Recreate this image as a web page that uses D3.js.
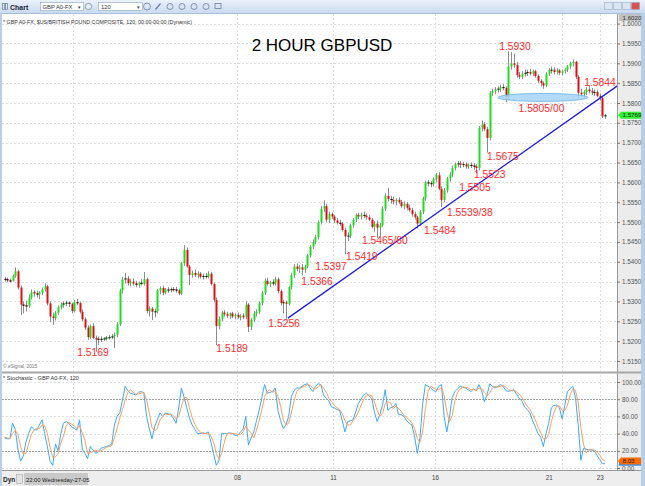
<!DOCTYPE html>
<html><head><meta charset="utf-8">
<script src="https://cdn.jsdelivr.net/npm/d3@7"></script>
<style>body{margin:0;background:#fff}svg{display:block;font-family:'Liberation Sans',Arial,sans-serif}</style>
</head><body><svg id="c" width="645" height="486"></svg>
<script>
// ---------- DATA (2-hour GBP/USD bars) ----------
const open=[1.5357,1.5356,1.5353,1.5352,1.5364,1.5376,1.5335,1.5292,1.5290,1.5288,
1.5310,1.5324,1.5320,1.5318,1.5322,1.5330,1.5338,1.5295,1.5262,1.5258,
1.5272,1.5285,1.5292,1.5295,1.5297,1.5294,1.5276,1.5298,1.5296,1.5274,
1.5255,1.5234,1.5210,1.5238,1.5208,1.5204,1.5206,1.5205,1.5207,1.5209,
1.5210,1.5212,1.5216,1.5242,1.5328,1.5355,1.5358,1.5346,1.5350,1.5345,
1.5342,1.5347,1.5344,1.5356,1.5276,1.5282,1.5274,1.5275,1.5328,1.5334,
1.5322,1.5330,1.5329,1.5331,1.5330,1.5328,1.5320,1.5396,1.5430,1.5388,
1.5367,1.5372,1.5366,1.5370,1.5362,1.5364,1.5362,1.5370,1.5344,1.5304,
1.5238,1.5256,1.5272,1.5268,1.5264,1.5270,1.5262,1.5266,1.5260,1.5264,
1.5260,1.5292,1.5236,1.5254,1.5270,1.5274,1.5296,1.5322,1.5352,1.5344,
1.5348,1.5345,1.5356,1.5326,1.5296,1.5298,1.5294,1.5336,1.5366,1.5388,
1.5382,1.5386,1.5380,1.5388,1.5416,1.5438,1.5450,1.5462,1.5500,1.5534,
1.5540,1.5506,1.5520,1.5514,1.5504,1.5498,1.5496,1.5480,1.5464,1.5466,
1.5492,1.5506,1.5518,1.5514,1.5518,1.5516,1.5512,1.5506,1.5488,1.5496,
1.5486,1.5492,1.5534,1.5566,1.5558,1.5556,1.5552,1.5556,1.5550,1.5540,
1.5546,1.5536,1.5530,1.5520,1.5512,1.5496,1.5526,1.5560,1.5600,1.5598,
1.5596,1.5608,1.5618,1.5584,1.5556,1.5580,1.5610,1.5620,1.5636,1.5646,
1.5648,1.5644,1.5646,1.5640,1.5644,1.5642,1.5640,1.5636,1.5738,1.5746,
1.5734,1.5712,1.5826,1.5830,1.5834,1.5836,1.5840,1.5838,1.5815,1.5892,
1.5900,1.5896,1.5870,1.5866,1.5874,1.5876,1.5878,1.5874,1.5880,1.5868,
1.5856,1.5850,1.5844,1.5874,1.5882,1.5884,1.5878,1.5882,1.5876,1.5880,
1.5884,1.5892,1.5900,1.5904,1.5866,1.5826,1.5822,1.5828,1.5834,1.5830,
1.5826,1.5828,1.5818,1.5812,1.5766];
const high=[1.5362,1.5360,1.5358,1.5368,1.5386,1.5380,1.5340,1.5300,1.5302,1.5318,
1.5330,1.5328,1.5327,1.5326,1.5335,1.5346,1.5342,1.5300,1.5272,1.5276,
1.5290,1.5298,1.5300,1.5302,1.5300,1.5297,1.5304,1.5306,1.5300,1.5280,
1.5260,1.5240,1.5242,1.5245,1.5214,1.5212,1.5212,1.5210,1.5213,1.5215,
1.5218,1.5222,1.5248,1.5332,1.5362,1.5372,1.5364,1.5356,1.5358,1.5352,
1.5350,1.5356,1.5374,1.5360,1.5288,1.5286,1.5282,1.5332,1.5338,1.5340,
1.5334,1.5336,1.5335,1.5336,1.5337,1.5332,1.5400,1.5442,1.5436,1.5392,
1.5378,1.5380,1.5376,1.5374,1.5370,1.5372,1.5376,1.5374,1.5348,1.5310,
1.5262,1.5276,1.5278,1.5274,1.5272,1.5274,1.5270,1.5272,1.5268,1.5270,
1.5300,1.5296,1.5258,1.5276,1.5280,1.5300,1.5326,1.5358,1.5360,1.5352,
1.5356,1.5362,1.5360,1.5330,1.5304,1.5302,1.5340,1.5372,1.5394,1.5396,
1.5392,1.5394,1.5392,1.5420,1.5442,1.5456,1.5468,1.5504,1.5540,1.5555,
1.5546,1.5526,1.5524,1.5518,1.5510,1.5506,1.5500,1.5486,1.5474,1.5496,
1.5510,1.5522,1.5524,1.5524,1.5526,1.5522,1.5518,1.5510,1.5502,1.5504,
1.5498,1.5540,1.5572,1.5586,1.5566,1.5564,1.5560,1.5562,1.5556,1.5552,
1.5550,1.5544,1.5536,1.5526,1.5516,1.5530,1.5564,1.5604,1.5606,1.5604,
1.5612,1.5624,1.5626,1.5590,1.5586,1.5614,1.5626,1.5642,1.5650,1.5654,
1.5654,1.5652,1.5650,1.5648,1.5650,1.5648,1.5646,1.5742,1.5756,1.5752,
1.5740,1.5830,1.5836,1.5840,1.5842,1.5846,1.5848,1.5842,1.5930,1.5928,
1.5924,1.5904,1.5878,1.5880,1.5884,1.5884,1.5886,1.5884,1.5884,1.5872,
1.5860,1.5854,1.5878,1.5888,1.5892,1.5890,1.5888,1.5886,1.5884,1.5888,
1.5896,1.5904,1.5910,1.5906,1.5870,1.5836,1.5832,1.5840,1.5844,1.5838,
1.5834,1.5832,1.5824,1.5816,1.5772];
const low=[1.5350,1.5349,1.5348,1.5350,1.5360,1.5330,1.5266,1.5270,1.5275,1.5284,
1.5305,1.5312,1.5310,1.5306,1.5316,1.5325,1.5290,1.5248,1.5241,1.5252,
1.5266,1.5280,1.5284,1.5288,1.5286,1.5270,1.5272,1.5290,1.5270,1.5250,
1.5228,1.5203,1.5205,1.5205,1.5173,1.5190,1.5198,1.5200,1.5202,1.5204,
1.5205,1.5183,1.5210,1.5238,1.5320,1.5345,1.5340,1.5338,1.5340,1.5336,
1.5335,1.5340,1.5340,1.5270,1.5262,1.5253,1.5260,1.5270,1.5318,1.5316,
1.5318,1.5322,1.5323,1.5325,1.5322,1.5316,1.5316,1.5390,1.5385,1.5341,
1.5360,1.5362,1.5358,1.5358,1.5355,1.5358,1.5358,1.5340,1.5298,1.5190,
1.5230,1.5250,1.5262,1.5258,1.5256,1.5258,1.5255,1.5256,1.5252,1.5255,
1.5255,1.5223,1.5228,1.5248,1.5262,1.5268,1.5290,1.5316,1.5340,1.5336,
1.5340,1.5340,1.5320,1.5290,1.5270,1.5256,1.5290,1.5330,1.5360,1.5376,
1.5372,1.5366,1.5372,1.5384,1.5410,1.5432,1.5444,1.5456,1.5494,1.5526,
1.5500,1.5498,1.5508,1.5498,1.5494,1.5490,1.5476,1.5419,1.5452,1.5460,
1.5486,1.5500,1.5508,1.5506,1.5510,1.5506,1.5502,1.5484,1.5476,1.5460,
1.5465,1.5488,1.5528,1.5552,1.5546,1.5544,1.5542,1.5546,1.5536,1.5532,
1.5530,1.5526,1.5514,1.5506,1.5484,1.5490,1.5520,1.5554,1.5590,1.5588,
1.5590,1.5600,1.5580,1.5538,1.5550,1.5574,1.5602,1.5614,1.5630,1.5638,
1.5636,1.5638,1.5634,1.5634,1.5636,1.5632,1.5623,1.5630,1.5728,1.5730,
1.5675,1.5706,1.5818,1.5822,1.5826,1.5828,1.5832,1.5802,1.5810,1.5884,
1.5888,1.5864,1.5860,1.5860,1.5866,1.5868,1.5870,1.5868,1.5864,1.5850,
1.5842,1.5836,1.5840,1.5868,1.5874,1.5872,1.5872,1.5870,1.5870,1.5874,
1.5878,1.5886,1.5892,1.5860,1.5812,1.5816,1.5814,1.5820,1.5824,1.5820,
1.5818,1.5814,1.5806,1.5762,1.5760];
const close=[1.5356,1.5353,1.5352,1.5364,1.5376,1.5335,1.5292,1.5290,1.5288,1.5310,
1.5324,1.5320,1.5318,1.5322,1.5330,1.5338,1.5295,1.5262,1.5258,1.5272,
1.5285,1.5292,1.5295,1.5297,1.5294,1.5276,1.5298,1.5296,1.5274,1.5255,
1.5234,1.5210,1.5238,1.5208,1.5204,1.5206,1.5205,1.5207,1.5209,1.5210,
1.5212,1.5216,1.5242,1.5328,1.5355,1.5358,1.5346,1.5350,1.5345,1.5342,
1.5347,1.5344,1.5356,1.5276,1.5282,1.5274,1.5275,1.5328,1.5334,1.5322,
1.5330,1.5329,1.5331,1.5330,1.5328,1.5320,1.5396,1.5430,1.5388,1.5367,
1.5372,1.5366,1.5370,1.5362,1.5364,1.5362,1.5370,1.5344,1.5304,1.5238,
1.5256,1.5272,1.5268,1.5264,1.5270,1.5262,1.5266,1.5260,1.5264,1.5260,
1.5292,1.5236,1.5254,1.5270,1.5274,1.5296,1.5322,1.5352,1.5344,1.5348,
1.5345,1.5356,1.5326,1.5296,1.5298,1.5294,1.5336,1.5366,1.5388,1.5382,
1.5386,1.5380,1.5388,1.5416,1.5438,1.5450,1.5462,1.5500,1.5534,1.5540,
1.5506,1.5520,1.5514,1.5504,1.5498,1.5496,1.5480,1.5464,1.5466,1.5492,
1.5506,1.5518,1.5514,1.5518,1.5516,1.5512,1.5506,1.5488,1.5496,1.5486,
1.5492,1.5534,1.5566,1.5558,1.5556,1.5552,1.5556,1.5550,1.5540,1.5546,
1.5536,1.5530,1.5520,1.5512,1.5496,1.5526,1.5560,1.5600,1.5598,1.5596,
1.5608,1.5618,1.5584,1.5556,1.5580,1.5610,1.5620,1.5636,1.5646,1.5648,
1.5644,1.5646,1.5640,1.5644,1.5642,1.5640,1.5636,1.5738,1.5746,1.5734,
1.5712,1.5826,1.5830,1.5834,1.5836,1.5840,1.5838,1.5815,1.5892,1.5900,
1.5896,1.5870,1.5866,1.5874,1.5876,1.5878,1.5874,1.5880,1.5868,1.5856,
1.5850,1.5844,1.5874,1.5882,1.5884,1.5878,1.5882,1.5876,1.5880,1.5884,
1.5892,1.5900,1.5904,1.5866,1.5826,1.5822,1.5828,1.5834,1.5830,1.5826,
1.5828,1.5818,1.5812,1.5766,1.5769];
// Stochastic %K (blue) and %D (orange)
const stochK=[35,34,34,52,45,22,8,14,30,40,48,45,44,50,56,40,25,8,3,28,
20,40,52,54,52,48,46,44,56,22,17,11,25,21,17,19,23,24,25,26,
28,50,60,64,79,95,90,87,86,85,88,89,87,60,46,34,48,56,64,60,
64,63,62,58,52,70,93,82,70,58,50,45,40,40,41,40,42,30,17,3,
9,40,40,40,41,40,38,38,42,45,60,27,35,42,55,67,82,97,87,88,
89,93,67,55,46,50,60,83,90,93,93,95,97,98,93,89,95,98,97,85,
81,78,71,70,68,67,55,42,54,55,56,65,75,80,85,87,84,81,65,54,
62,73,91,67,70,71,75,62,62,60,55,52,50,36,17,36,75,97,95,93,
90,89,95,97,60,42,60,82,89,92,95,94,93,91,89,92,90,97,90,77,
85,98,95,93,95,97,95,90,89,90,91,86,81,78,71,68,64,55,48,40,
36,25,40,52,70,73,73,70,57,73,89,92,95,82,50,9,23,22,21,21,
20,15,10,5,5];
const stochD=[36,35,34,40,44,39,25,16,17,28,39,44,46,46,50,49,40,24,12,13,
17,29,37,49,53,51,49,46,49,41,32,17,18,19,21,19,20,22,24,25,
26,35,46,58,68,79,88,91,88,86,86,87,88,79,64,47,43,46,56,60,
63,62,63,61,57,60,72,82,82,70,59,51,45,42,40,40,41,37,30,17,
10,17,30,40,40,40,40,39,39,42,49,44,41,35,44,55,68,82,89,91,
88,90,83,72,56,50,52,64,78,89,92,94,95,97,96,93,92,94,97,93,
88,81,77,73,70,68,63,55,50,50,55,59,65,73,80,84,85,84,77,67,
60,63,75,77,76,69,72,69,66,61,59,56,52,46,34,30,43,69,89,95,
93,91,91,94,84,66,54,61,78,88,92,94,94,93,91,91,90,93,92,88,
84,87,93,95,94,95,96,94,91,90,90,89,86,82,77,72,68,62,56,48,
41,34,34,39,54,65,72,72,67,67,73,85,92,90,76,47,27,18,22,21,
21,19,15,10,8.03];
// axis ticks
const priceTicks=[1.5150,1.5200,1.5250,1.5300,1.5350,1.5400,1.5450,1.5500,1.5550,1.5600,1.5650,1.5700,1.5750,1.5800,1.5850,1.5900,1.5950,1.6000];
const stochTicks=[0,20,40,60,80,100];
const dayBreaks=[25.5,86.7,122.5,160.6,207.9,222.1];
const timeTickIdx=[86.7,122.5,160.6,203,222];
const timeTickLabels=["08","11","16","21","23"];
// annotations
const labelTexts=["1.5169","1.5189","1.5256","1.5366","1.5397","1.5419","1.5465/60","1.5484","1.5539/38","1.5505","1.5523","1.5675","1.5930","1.5805/00","1.5844"];
const labelIdx=[33.0,84.9,104.3,116.6,121.8,133.3,141.9,162.4,173.6,175.5,181.0,185.9,190.4,200.3,222.1];
const labelPrice=[1.5172,1.5183,1.5246,1.5350,1.5389,1.5415,1.5454,1.5480,1.5525,1.5587,1.5620,1.5666,1.5944,1.5787,1.5853];
const trendIdx=[105.7,229.2];
const trendPrice=[1.5258,1.5846];
const zoneIdx=[184,217.6];
const zonePrice=[1.5804,1.5824];
const lastPrice=1.5769, lastK=5, lastD=8.03, topPrice=1.6020;

// ---------- LAYOUT ----------
const svg=d3.select('#c');
const PL=2,PR=617,PT=14,PB=371,ST=375,SB=470,AX=641;
const x=d3.scaleLinear().domain([0,close.length-1]).range([4.5,605]);
const y=d3.scaleLinear().domain([1.515,1.59]).range([361,63.3]);
const ys=d3.scaleLinear().domain([0,100]).range([468,382]);

const defs=svg.append('defs');
const gr=defs.append('linearGradient').attr('id','tb').attr('x1',0).attr('y1',0).attr('x2',0).attr('y2',1);
gr.append('stop').attr('offset',0).attr('stop-color','#eaf1fb');
gr.append('stop').attr('offset',1).attr('stop-color','#c9daef');
defs.append('clipPath').attr('id','cp').append('rect').attr('x',PL).attr('y',PT).attr('width',PR-PL).attr('height',PB-PT);
defs.append('clipPath').attr('id','cs').append('rect').attr('x',PL).attr('y',ST).attr('width',PR-PL).attr('height',SB-ST);

svg.append('rect').attr('width',645).attr('height',486).attr('fill','#fff');
// axis background
svg.append('rect').attr('x',PR).attr('y',PT).attr('width',AX-PR).attr('height',486-PT).attr('fill','#ececec');
svg.append('line').attr('x1',PR+0.5).attr('x2',PR+0.5).attr('y1',PT).attr('y2',SB).attr('stroke','#9a9a9a');
// toolbar
svg.append('rect').attr('width',645).attr('height',13).attr('fill','url(#tb)');
svg.append('line').attr('x1',0).attr('x2',645).attr('y1',13.5).attr('y2',13.5).attr('stroke','#a9bfdc');
const tb=svg.append('g');
tb.append('rect').attr('x',2.5).attr('y',3.5).attr('width',2).attr('height',6).attr('fill','none').attr('stroke','#6a7f9c').attr('stroke-width',0.7);
tb.append('rect').attr('x',5.5).attr('y',3.5).attr('width',2).attr('height',6).attr('fill','none').attr('stroke','#6a7f9c').attr('stroke-width',0.7);
tb.append('text').attr('x',10).attr('y',9.5).attr('font-size',7).attr('font-weight','bold').attr('fill','#223').text('Chart');
tb.append('rect').attr('x',40.5).attr('y',2.5).attr('width',43).attr('height',8).attr('fill','#fff').attr('stroke','#8ea3bf').attr('stroke-width',0.6);
tb.append('text').attr('x',42.5).attr('y',9).attr('font-size',5.8).attr('fill','#333').text('GBP A0-FX');
tb.append('text').attr('x',77.5).attr('y',9).attr('font-size',5).attr('fill','#333').text('▾');
tb.append('circle').attr('cx',88.5).attr('cy',6.5).attr('r',3.2).attr('fill','#e6eef8').attr('stroke','#6a7f9c').attr('stroke-width',0.7);
tb.append('rect').attr('x',98.5).attr('y',2.5).attr('width',44).attr('height',8).attr('fill','#fff').attr('stroke','#8ea3bf').attr('stroke-width',0.6);
tb.append('text').attr('x',101).attr('y',9).attr('font-size',5.8).attr('fill','#333').text('120');
tb.append('text').attr('x',136.5).attr('y',9).attr('font-size',5).attr('fill','#333').text('▾');
tb.append('circle').attr('cx',147).attr('cy',6.5).attr('r',3.5).attr('fill','none').attr('stroke','#6a7f9c').attr('stroke-width',0.8);
[158,170,182,194,206,218,230].forEach((cx,k)=>{
  if(k===0){tb.append('line').attr('x1',cx-2.5).attr('y1',9.5).attr('x2',cx+2.5).attr('y2',3.5).attr('stroke','#6a7f9c').attr('stroke-width',1.2);}
  else if(k===5){tb.append('rect').attr('x',cx-3).attr('y',3.5).attr('width',6).attr('height',5).attr('fill','none').attr('stroke','#6a7f9c').attr('stroke-width',0.8);}
  else if(k<5){tb.append('circle').attr('cx',cx).attr('cy',6.5).attr('r',3).attr('fill','none').attr('stroke','#6a7f9c').attr('stroke-width',0.8);}
});
[[604,'#dce6f3'],[613,'#dce6f3'],[622,'#dce6f3'],[631,'#d9534f']].forEach(([bx,c])=>{
  tb.append('rect').attr('x',bx+0.5).attr('y',2.5).attr('width',8).attr('height',7).attr('fill',c).attr('stroke','#8ea3bf').attr('stroke-width',0.5);
});
// window borders
svg.append('rect').attr('x',0).attr('y',13).attr('width',2).attr('height',473).attr('fill','#b8cde6');
svg.append('rect').attr('x',AX).attr('y',13).attr('width',645-AX).attr('height',473).attr('fill','#b8cde6');

// ---------- grid ----------
const grid=svg.append('g').attr('stroke','#d6d6d6').attr('stroke-dasharray','2,2').attr('stroke-width',0.8);
priceTicks.forEach(p=>grid.append('line').attr('x1',PL).attr('x2',PR).attr('y1',Math.round(y(p))+0.5).attr('y2',Math.round(y(p))+0.5));
dayBreaks.forEach(d=>{
  const xx=Math.round(x(d))+0.5;
  grid.append('line').attr('x1',xx).attr('x2',xx).attr('y1',PT).attr('y2',PB);
  grid.append('line').attr('x1',xx).attr('x2',xx).attr('y1',ST).attr('y2',SB);
});
[0,40,60,100].forEach(v=>grid.append('line').attr('x1',PL).attr('x2',PR).attr('y1',Math.round(ys(v))+0.5).attr('y2',Math.round(ys(v))+0.5));
[20,80].forEach(v=>svg.append('line').attr('x1',PL).attr('x2',PR).attr('y1',Math.round(ys(v))+0.5).attr('y2',Math.round(ys(v))+0.5)
  .attr('stroke','#8a8a8a').attr('stroke-dasharray','2,1').attr('stroke-width',0.8));

// panel separators
svg.append('rect').attr('x',PL).attr('y',PB+0.5).attr('width',AX-PL).attr('height',2).attr('fill','#a8a8a8');
svg.append('line').attr('x1',PL).attr('x2',AX).attr('y1',SB+0.5).attr('y2',SB+0.5).attr('stroke','#9a9a9a');
svg.append('rect').attr('x',PL).attr('y',SB+1).attr('width',AX-PL).attr('height',486-SB-1).attr('fill','#eeeeee');

// ---------- header texts ----------
svg.append('text').attr('x',3).attr('y',24).attr('font-size',6).attr('fill','#333')
  .attr('textLength',189).attr('lengthAdjust','spacingAndGlyphs')
  .text('* GBP A0-FX, $US/BRITISH POUND COMPOSITE, 120, 00:00-00:00 (Dynamic)');
svg.append('text').attr('x',322).attr('y',50.5).attr('text-anchor','middle').attr('font-size',17).attr('fill','#000').text('2 HOUR GBPUSD');
svg.append('text').attr('x',3).attr('y',368).attr('font-size',4.8).attr('fill','#777').text('© eSignal, 2015');
svg.append('text').attr('x',3).attr('y',380).attr('font-size',6).attr('fill','#333')
  .attr('textLength',76).attr('lengthAdjust','spacingAndGlyphs').text('* Stochastic - GBP A0-FX, 120');

// ---------- candles ----------
const cg=svg.append('g').attr('clip-path','url(#cp)');
close.forEach((c,i)=>{
  const o=open[i], xx=Math.round(x(i));
  cg.append('line').attr('x1',xx+0.5).attr('x2',xx+0.5).attr('y1',y(high[i])).attr('y2',y(low[i])).attr('stroke','#8c8c8c').attr('stroke-width',1);
  const top=y(Math.max(o,c)), bot=y(Math.min(o,c));
  const h=Math.max(1,bot-top);
  const col=c>o?'#1edc1e':(c<o?'#dc1010':'#111');
  cg.append('rect').attr('x',xx-0.5).attr('y',top).attr('width',2).attr('height',h).attr('fill',col);
  if(h<=1.2) cg.append('rect').attr('x',xx-0.5).attr('y',top).attr('width',2).attr('height',1).attr('fill','#111');
});
// trend line
cg.append('line').attr('x1',x(trendIdx[0])).attr('y1',y(trendPrice[0])).attr('x2',x(trendIdx[1])).attr('y2',y(trendPrice[1]))
  .attr('stroke','#1a1ae0').attr('stroke-width',1.3);
// ellipse zone
const ex0=x(zoneIdx[0]),ex1=x(zoneIdx[1]),ey0=y(zonePrice[1]),ey1=y(zonePrice[0]);
cg.append('ellipse').attr('cx',(ex0+ex1)/2).attr('cy',(ey0+ey1)/2).attr('rx',(ex1-ex0)/2).attr('ry',(ey1-ey0)/2)
  .attr('fill','#a6d4f7').attr('fill-opacity',0.85).attr('stroke','#6db3ea').attr('stroke-width',0.8);
// labels
const lg=svg.append('g').attr('font-size',10.3).attr('fill','#ff2a2a').attr('text-anchor','middle');
labelTexts.forEach((t,k)=>lg.append('text').attr('x',x(labelIdx[k])).attr('y',y(labelPrice[k])).attr('dy','0.36em').text(t));

// ---------- stochastic ----------
const sg=svg.append('g').attr('clip-path','url(#cs)');
const sl=d3.line().x((d,i)=>x(i)).y(d=>ys(d));
sg.append('path').attr('d',sl(stochK)).attr('fill','none').attr('stroke','#3ea9f2').attr('stroke-width',1);
sg.append('path').attr('d',sl(stochD)).attr('fill','none').attr('stroke','#f7a060').attr('stroke-width',1);

// ---------- axes ----------
const pa=svg.append('g').attr('transform',`translate(${PR},0)`).call(d3.axisRight(y).tickValues(priceTicks).tickFormat(d3.format('.4f')).tickSize(3).tickPadding(2));
pa.select('.domain').remove();
pa.selectAll('text').attr('font-size',6.3).attr('fill','#555').attr('font-family','Liberation Sans, Arial, sans-serif');
pa.selectAll('line').attr('stroke','#777');
const sa=svg.append('g').attr('transform',`translate(${PR},0)`).call(d3.axisRight(ys).tickValues(stochTicks).tickFormat(d3.format('.2f')).tickSize(3).tickPadding(2));
sa.select('.domain').remove();
sa.selectAll('text').attr('font-size',6.3).attr('fill','#555').attr('font-family','Liberation Sans, Arial, sans-serif');
sa.selectAll('line').attr('stroke','#777');
const ta=svg.append('g').attr('transform',`translate(0,${SB+2})`).call(d3.axisBottom(x).tickValues(timeTickIdx).tickFormat((d,k)=>timeTickLabels[k]).tickSize(0).tickPadding(4));
ta.select('.domain').remove();
ta.selectAll('text').attr('font-size',6.3).attr('fill','#444').attr('font-family','Liberation Sans, Arial, sans-serif');

// value boxes
function box(yy,txt,fill,tcol){
  const g=svg.append('g');
  g.append('path').attr('d',`M${PR+1},${yy} L${PR+4},${yy-3.5} L${AX},${yy-3.5} L${AX},${yy+3.5} L${PR+4},${yy+3.5} Z`).attr('fill',fill);
  g.append('text').attr('x',PR+5.5).attr('y',yy).attr('dy','0.35em').attr('font-size',6.2).attr('fill',tcol).text(txt);
}
svg.append('rect').attr('x',PR+2).attr('y',PT).attr('width',AX-PR-2).attr('height',7).attr('fill','#c2c2c2');
svg.append('text').attr('x',PR+5.5).attr('y',PT+3.5).attr('dy','0.35em').attr('font-size',6.2).attr('fill','#333').text(topPrice.toFixed(4));
box(y(lastPrice),lastPrice.toFixed(4),'#2ef22e','#111');
svg.append('rect').attr('x',PR+2).attr('y',ys(lastK)-2).attr('width',AX-PR-2).attr('height',4).attr('fill','#1e90ff');
box(ys(lastD),lastD.toFixed(2),'#ff6a00','#222');

// bottom-left status
svg.append('text').attr('x',3).attr('y',482).attr('font-size',6.5).attr('font-weight','bold').attr('fill','#222').text('Dyn');
svg.append('rect').attr('x',16.5).attr('y',474.5).attr('width',6).attr('height',9).attr('fill','#e4e4e4').attr('stroke','#999').attr('stroke-width',0.5);
svg.append('rect').attr('x',24).attr('y',473).attr('width',64).attr('height',12).attr('fill','#c9c9c9');
svg.append('text').attr('x',26).attr('y',481.5).attr('font-size',5.8).attr('fill','#222').text('22:00 Wednesday-27-05');
</script></body></html>
